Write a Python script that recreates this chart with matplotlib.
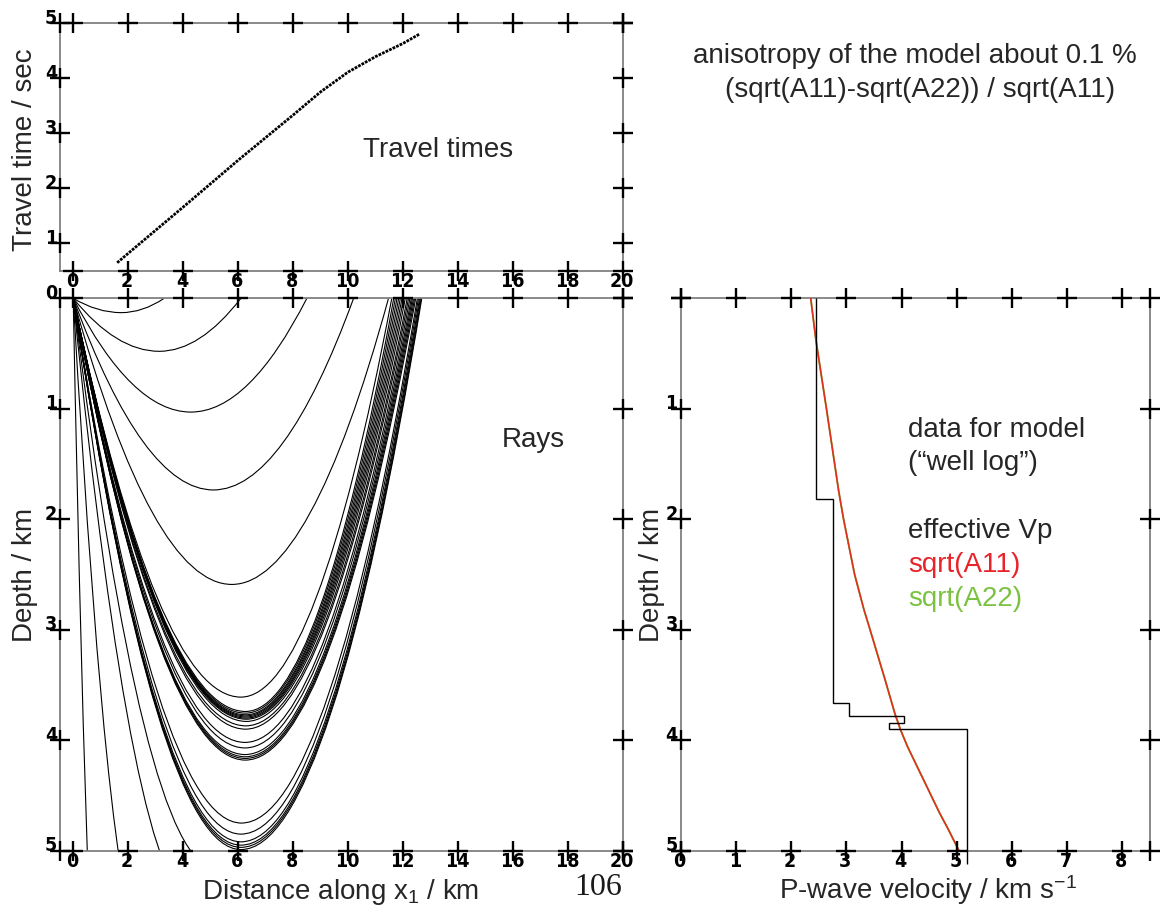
import matplotlib
matplotlib.use('Agg')
import matplotlib.pyplot as plt
from matplotlib.path import Path
from matplotlib.patches import PathPatch
from matplotlib import font_manager

W, H, DPI = 1160, 910, 100

# ---------------- data ----------------
# travel times (distance km, time s)
tt_dist = [1.6, 2.0, 4.0, 6.0, 8.0, 9.0, 10.0, 11.0, 12.0, 12.6]
tt_time = [0.65, 0.82, 1.66, 2.51, 3.33, 3.75, 4.11, 4.39, 4.63, 4.80]

# turning rays: turning point (x, depth) and emergence distance (km)
ray_turn_x = [1.75, 3.13, 4.28, 5.10, 5.77, 6.10,
              6.27, 6.27, 6.28, 6.28, 6.29, 6.29, 6.30, 6.30,
              6.28, 6.27, 6.25, 6.25, 6.25, 6.26, 6.26, 6.26,
              6.12, 6.10, 6.10, 6.10, 6.10, 6.10]
ray_turn_z = [0.13, 0.48, 1.03, 1.735, 2.59, 3.61,
              3.74, 3.755, 3.77, 3.78, 3.79, 3.80, 3.81, 3.83,
              3.87, 3.90, 4.02, 4.07, 4.13, 4.15, 4.165, 4.18,
              4.75, 4.85, 4.92, 4.95, 4.97, 4.99]
ray_exit_x = [3.31, 6.10, 8.50, 10.20, 11.47, 11.59,
              11.66, 11.72, 11.78, 11.84, 11.90, 11.96, 12.02, 12.08,
              12.15, 12.20, 12.25, 12.30, 12.34, 12.38, 12.42, 12.46,
              12.52, 12.56, 12.60, 12.63, 12.66, 12.68]

# steep rays leaving through the bottom: apex of their path below the model
steep_apex_x = [1.17, 2.76, 4.45, 5.15]
steep_apex_z = [7.31, 6.00, 5.48, 5.15]

# well log (layer velocities and layer boundaries, km)
log_vp = [2.45, 2.75, 3.05, 4.05, 3.77, 5.18]
log_edges = [0.0, 1.82, 3.66, 3.78, 3.84, 3.90, 5.12]

# effective Vp
eff_depth = [0.0, 0.38, 1.0, 1.74, 2.0, 2.5, 2.82, 3.0, 3.45, 3.76, 3.91, 4.06, 4.36, 4.66, 4.81, 5.0]
eff_a11 = [2.355, 2.45, 2.64, 2.86, 2.95, 3.15, 3.32, 3.43, 3.70, 3.88, 3.985, 4.11, 4.40, 4.69, 4.85, 5.04]
eff_a22 = [2.355, 2.45, 2.64, 2.86, 2.95, 3.15, 3.32, 3.43, 3.70, 3.88, 3.985, 4.11, 4.40, 4.69, 4.85, 5.04]

dist_ticks = [0, 2, 4, 6, 8, 10, 12, 14, 16, 18, 20]
time_ticks = [1, 2, 3, 4, 5]
depth_ticks = [0, 1, 2, 3, 4, 5]
vel_ticks = [0, 1, 2, 3, 4, 5, 6, 7, 8]

# ---------------- fonts ----------------
names = {f.name for f in font_manager.fontManager.ttflist}
if 'Liberation Sans Narrow' in names:
    TICKFONT = dict(family='Liberation Sans Narrow', weight='bold', size=14)
else:
    TICKFONT = dict(family='DejaVu Sans', stretch='condensed', weight='bold', size=14)
TXT = dict(family='Liberation Sans', size=20, color='#262626')
plt.rcParams['mathtext.fontset'] = 'custom'
plt.rcParams['mathtext.rm'] = 'Liberation Sans'
plt.rcParams['mathtext.it'] = 'Liberation Sans'

fig = plt.figure(figsize=(W / DPI, H / DPI), dpi=DPI)


def ax_at(l, t, r, b):
    return fig.add_axes([l / W, 1 - b / H, (r - l) / W, (b - t) / H])


ax_tt = ax_at(60, 23, 623, 271)
ax_ray = ax_at(60, 298.3, 623, 850.7)
ax_v = ax_at(680.7, 298.3, 1150, 850.7)


def decorate(ax, xticks, yticks, xlabels, ylabels):
    for s in ax.spines.values():
        s.set_color('#808080')
        s.set_linewidth(1.3)
    ax.set_xticks([])
    ax.set_yticks([])
    xt = ax.get_xaxis_transform()
    yt = ax.get_yaxis_transform()
    mk = dict(ls='none', marker='+', ms=15, mew=1.7, color='k', clip_on=False, zorder=6)
    for f in (0, 1):
        ax.plot(xticks, [f] * len(xticks), transform=xt, **mk)
        ax.plot([f] * len(yticks), yticks, transform=yt, **mk)
    for x in xlabels:
        ax.annotate(str(x), xy=(x, 0), xycoords=xt, xytext=(-1, -1), textcoords='offset pixels',
                    ha='center', va='top', zorder=7, annotation_clip=False, **TICKFONT)
    for y in ylabels:
        ax.annotate(str(y), xy=(0, y), xycoords=yt, xytext=(-3, 5), textcoords='offset pixels',
                    ha='right', va='center', zorder=7, annotation_clip=False, **TICKFONT)


# ---------------- travel times ----------------
ax_tt.plot(tt_dist, tt_time, color='k', lw=2.0, ls=(0, (1, 0.4)))
ax_tt.set_xlim(-0.48, 20)
ax_tt.set_ylim(0.5, 5)
decorate(ax_tt, dist_ticks, time_ticks, dist_ticks, time_ticks)

# ---------------- rays ----------------
for xt_, zt_, xe_ in zip(ray_turn_x, ray_turn_z, ray_exit_x):
    verts = [(0, 0), (xt_ / 2, zt_), (xt_, zt_), ((xt_ + xe_) / 2, zt_), (xe_, 0)]
    codes = [Path.MOVETO, Path.CURVE3, Path.CURVE3, Path.CURVE3, Path.CURVE3]
    ax_ray.add_patch(PathPatch(Path(verts, codes), fill=False, lw=0.8, ec='k'))
for xa, za in zip(steep_apex_x, steep_apex_z):
    verts = [(0, 0), (xa / 2, za), (xa, za)]
    codes = [Path.MOVETO, Path.CURVE3, Path.CURVE3]
    ax_ray.add_patch(PathPatch(Path(verts, codes), fill=False, lw=0.8, ec='k'))
ax_ray.set_xlim(-0.48, 20)
ax_ray.set_ylim(5, 0)
decorate(ax_ray, dist_ticks, depth_ticks, dist_ticks, depth_ticks)

# ---------------- velocity ----------------
ax_v.plot(eff_a22, eff_depth, color='#7cc242', lw=1.3, zorder=3)
ax_v.plot(eff_a11, eff_depth, color='#e0301e', lw=1.2, zorder=4)
ax_v.stairs(log_vp, log_edges, orientation='horizontal', baseline=None, color='k', lw=1.0,
            zorder=5, clip_on=False)
ax_v.set_xlim(0, 8.5)
ax_v.set_ylim(5, 0)
decorate(ax_v, vel_ticks, depth_ticks, vel_ticks, depth_ticks[1:])

# ---------------- texts ----------------
def ftext(x, y, s, **kw):
    d = dict(TXT)
    d.update(kw)
    fig.text(x / W, 1 - y / H, s, **d)

ftext(438, 157, 'Travel times', ha='center', va='baseline')
ftext(533, 447, 'Rays', ha='center', va='baseline')
ftext(915, 63, 'anisotropy of the model about 0.1 %', ha='center', va='baseline')
ftext(920, 97, '(sqrt(A11)-sqrt(A22)) / sqrt(A11)', ha='center', va='baseline')
ftext(908, 437, 'data for model', ha='left', va='baseline')
ftext(908, 470, '(\u201cwell log\u201d)', ha='left', va='baseline')
ftext(908, 538, 'effective Vp', ha='left', va='baseline')
ftext(908, 572, 'sqrt(A11)', ha='left', va='baseline', color='#e8232a')
ftext(908, 606, 'sqrt(A22)', ha='left', va='baseline', color='#7cc242')
ftext(341, 899, 'Distance along x$_1$ / km', ha='center', va='baseline')
ftext(928, 899, 'P-wave velocity / km s$^{-1}$', ha='center', va='baseline')
ftext(25, 150, 'Travel time / sec', ha='center', va='center', rotation=90)
ftext(25, 575, 'Depth / km', ha='center', va='center', rotation=90)
ftext(652, 575, 'Depth / km', ha='center', va='center', rotation=90)
ftext(598, 895, '106', ha='center', va='baseline', family='Liberation Serif', size=23, color='#1a1a1a')

fig.savefig('out.png', dpi=DPI)
